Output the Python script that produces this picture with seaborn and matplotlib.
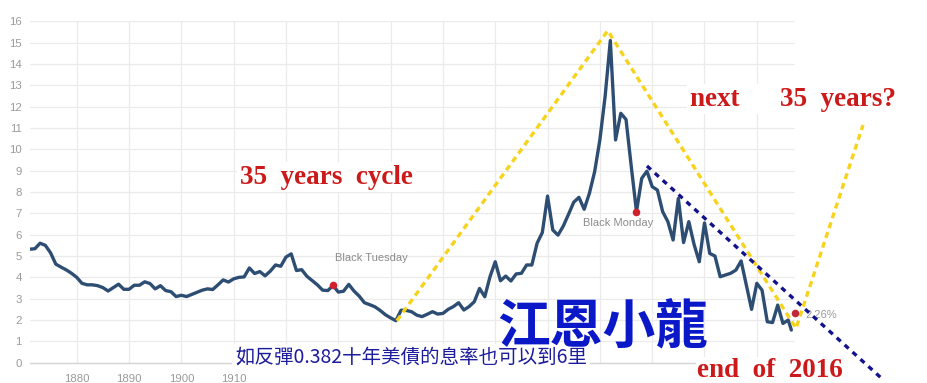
import numpy as np
import pandas as pd
import matplotlib
matplotlib.use("Agg")
import matplotlib.pyplot as plt
import seaborn as sns

# ---------------- data ----------------
years = list(range(1871, 2017)) + [2016.6]
yields = [
    5.32, 5.34, 5.60, 5.50, 5.15, 4.62, 4.48, 4.35, 4.19,            # 1871-1879
    4.00, 3.72, 3.65, 3.65, 3.61, 3.52, 3.36, 3.52, 3.68, 3.44,      # 1880-1889
    3.44, 3.63, 3.63, 3.79, 3.71, 3.46, 3.61, 3.38, 3.33, 3.10,      # 1890-1899
    3.16, 3.10, 3.20, 3.30, 3.40, 3.46, 3.43, 3.65, 3.88, 3.78,      # 1900-1909
    3.93, 4.00, 4.02, 4.44, 4.18, 4.27, 4.07, 4.29, 4.58, 4.52,      # 1910-1919
    4.95, 5.10, 4.32, 4.36, 4.05, 3.85, 3.65, 3.40, 3.38, 3.62,      # 1920-1929
    3.31, 3.35, 3.67, 3.36, 3.12, 2.81, 2.72, 2.62, 2.45, 2.25,      # 1930-1939
    2.10, 1.97, 2.46, 2.45, 2.39, 2.23, 2.16, 2.27, 2.39, 2.28,      # 1940-1949
    2.31, 2.50, 2.63, 2.81, 2.47, 2.63, 2.86, 3.48, 3.09, 4.03,      # 1950-1959
    4.73, 3.84, 4.06, 3.83, 4.16, 4.19, 4.58, 4.58, 5.60, 6.10,      # 1960-1969
    7.81, 6.22, 5.98, 6.40, 6.95, 7.52, 7.75, 7.19, 7.94, 8.95,      # 1970-1979
    10.44, 12.47, 15.10, 10.44, 11.69, 11.40, 9.20, 7.08, 8.64, 8.98,  # 1980-1989
    8.25, 8.09, 7.08, 6.61, 5.75, 7.70, 5.63, 6.61, 5.55, 4.73,      # 1990-1999
    6.55, 5.12, 5.00, 4.03, 4.11, 4.19, 4.34, 4.77, 3.64, 2.50,      # 2000-2009
    3.72, 3.40, 1.92, 1.88, 2.70, 1.84, 2.00,                        # 2010-2016
    1.53,                                                            # latest 2016
]

event_years = [1929, 1987]
event_values = [3.62, 7.08]
event_labels = ["Black Tuesday", "Black Monday"]

latest_year = 2017.3
latest_value = 2.31
latest_label = "2.26%"

cycle_years = [1941.2, 1981.5, 2017.5, 2030.3]
cycle_values = [1.97, 15.56, 1.61, 11.14]

trend_years = [1989.0, 2034.2]
trend_values = [9.22, -0.81]

y_ticks = list(range(0, 17))
x_ticks = list(range(1880, 2020, 10))
x_tick_labels = ["1880", "1890", "1900", "1910", "", "", "", "", "", "", "", "", "", ""]

df = pd.DataFrame({"year": years, "yield": yields})

# ---------------- figure ----------------
sns.set_theme(style="whitegrid")
plt.rcParams["font.family"] = ["Liberation Sans", "DejaVu Sans"]

fig = plt.figure(figsize=(9.27, 3.83), dpi=100)
ax = fig.add_axes([30 / 927, (383 - 362.7) / 383, 765 / 927, (362.7 - 21.3) / 383])
ax.set_facecolor("white")

sns.lineplot(data=df, x="year", y="yield", ax=ax, color="#2e4d73",
             linewidth=2.4, zorder=3)

ax.set_xlim(1871.07, 2017.3)
ax.set_ylim(0, 16)
ax.set_yticks(y_ticks)
ax.set_xticks(x_ticks)
ax.set_xticklabels(x_tick_labels)
ax.grid(True, color="#ebebeb", linewidth=0.9)
for s in ["top", "right", "left"]:
    ax.spines[s].set_visible(False)
ax.spines["bottom"].set_color("#d4d4d4")
ax.spines["bottom"].set_linewidth(1.0)
ax.tick_params(axis="both", length=0, colors="#9a9a9a", labelsize=8.2)
ax.tick_params(axis="y", pad=6)
ax.tick_params(axis="x", pad=8)
ax.set_xlabel("")
ax.set_ylabel("")

# event markers
ax.scatter(event_years, event_values, s=30, color="#d0202e", zorder=5, linewidths=0)
ax.scatter([latest_year], [latest_value], s=30, color="#c0283a", zorder=5,
           linewidths=0, clip_on=False)

ax.text(1929.4, 4.9, event_labels[0], color="#8c8c8c", fontsize=8, va="center", ha="left")
ax.text(1976.8, 6.55, event_labels[1], color="#8c8c8c", fontsize=8, va="center", ha="left")
ax.text(2019.2, 2.24, latest_label, color="#9a9a9a", fontsize=8, va="center", ha="left",
        clip_on=False)

# cycle lines
ax.plot(cycle_years, cycle_values, color="#f7d31c", linewidth=2.4,
        dashes=(1.8, 1.3), clip_on=False, zorder=4)
ax.plot(trend_years, trend_values, color="#12128c", linewidth=2.4,
        dashes=(1.6, 1.6), clip_on=False, zorder=4)

# annotations
serif = ["Liberation Serif", "DejaVu Serif"]
cjk = ["Noto Sans CJK TC", "DejaVu Sans"]
white = dict(facecolor="white", edgecolor="none", pad=2)

fig.text(240 / 927, 1 - 177 / 383, "35  years  cycle", color="#cc1a1a", fontsize=19.5,
         fontweight="bold", family=serif, va="center", ha="left", bbox=white, zorder=6)
fig.text(690 / 927, 1 - 99 / 383, "next      35  years?", color="#cc1a1a", fontsize=19.5,
         fontweight="bold", family=serif, va="center", ha="left", bbox=white, zorder=6)
fig.text(697 / 927, 1 - 377 / 383, "end  of  2016", color="#cc1a1a", fontsize=19.5,
         fontweight="bold", family=serif, va="baseline", ha="left",
         bbox=dict(facecolor="white", edgecolor="none", pad=1), zorder=6)
fig.text(497 / 927, 1 - 328 / 383, "江恩小龍", color="#0a18c8", fontsize=38,
         fontweight="bold", family=cjk, va="center", ha="left", zorder=7)
fig.text(235 / 927, 1 - 357 / 383, "如反彈0.382十年美債的息率也可以到6里", color="#1c1c9c",
         fontsize=14, family=cjk, va="center", ha="left", bbox=white, zorder=6)

fig.savefig("out.png", dpi=100, facecolor="white")
